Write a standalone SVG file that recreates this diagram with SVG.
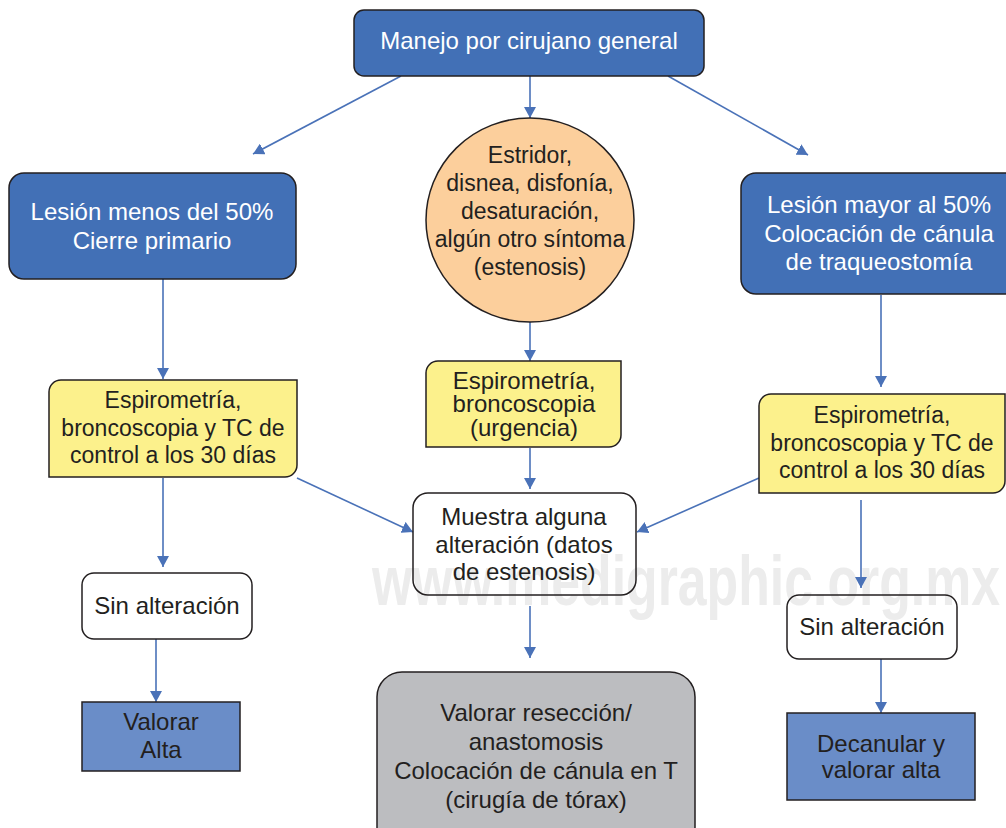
<svg xmlns="http://www.w3.org/2000/svg" width="1006" height="828" viewBox="0 0 1006 828">
<defs>
<marker id="ah" viewBox="0 0 11 12" refX="11" refY="6" markerWidth="11" markerHeight="12" markerUnits="userSpaceOnUse" orient="auto">
<path d="M0,0 L11,6 L0,12 Z" fill="#4a72b8"/>
</marker>
<style>
text{font-family:"Liberation Sans",Arial,sans-serif;text-anchor:middle}
.w{fill:#ffffff;font-size:24px}
.d{fill:#231f20;font-size:24px}
.d23{fill:#231f20;font-size:23px}
.box{stroke:#231f20;stroke-width:1.5}
.dblue{fill:#4270b6}
.lblue{fill:#6a8dc8}
.yel{fill:#fcf18c}
.peach{fill:#fccf9c}
.gray{fill:#bcbdc0}
.white{fill:none}
.con line{stroke:#4a72b8;stroke-width:1.6;marker-end:url(#ah)}
.wm{font-family:"Liberation Sans",Arial,sans-serif;font-weight:bold;font-size:70px;fill:#ececec;text-anchor:start}
</style>
</defs>
<rect width="1006" height="828" fill="#ffffff"/>
<text class="wm" x="372" y="605" textLength="628" lengthAdjust="spacingAndGlyphs">www.medigraphic.org.mx</text>

<g id="connectors" class="con">
<line x1="401" y1="76" x2="253" y2="154"/>
<line x1="530" y1="76" x2="530" y2="118"/>
<line x1="668" y1="76" x2="808" y2="155"/>
<line x1="163" y1="279" x2="163" y2="379"/>
<line x1="530" y1="322" x2="530" y2="361"/>
<line x1="881" y1="295" x2="881" y2="387"/>
<line x1="297" y1="478" x2="413" y2="532"/>
<line x1="530" y1="448" x2="530" y2="489"/>
<line x1="759" y1="478" x2="637" y2="532"/>
<line x1="163" y1="478" x2="163" y2="567"/>
<line x1="156" y1="639" x2="156" y2="702"/>
<line x1="530" y1="606" x2="530" y2="658"/>
<line x1="861" y1="500" x2="861" y2="588"/>
<line x1="881" y1="659" x2="881" y2="713"/>
</g>

<g id="top">
<rect class="box dblue" x="354" y="10" width="350" height="66" rx="10"/>
<text class="w" x="529" y="49">Manejo por cirujano general</text>
</g>

<g id="left-lesion">
<rect class="box dblue" x="9" y="173" width="287" height="106" rx="15"/>
<text class="w" x="152" y="220">Lesión menos del 50%</text>
<text class="w" x="152" y="249">Cierre primario</text>
</g>

<g id="right-lesion">
<rect class="box dblue" x="741" y="173" width="300" height="121" rx="15"/>
<text class="w" x="879" y="213">Lesión mayor al 50%</text>
<text class="w" x="879" y="242">Colocación de cánula</text>
<text class="w" x="879" y="270">de traqueostomía</text>
</g>

<g id="symptoms">
<ellipse class="box peach" cx="530" cy="220" rx="104" ry="102"/>
<text class="d23" x="530" y="163">Estridor,</text>
<text class="d23" x="530" y="191">disnea, disfonía,</text>
<text class="d23" x="530" y="219">desaturación,</text>
<text class="d23" x="530" y="247">algún otro síntoma</text>
<text class="d23" x="530" y="275">(estenosis)</text>
</g>

<g id="left-yellow">
<path class="box yel" d="M61,380 H297 V465 A12,12 0 0 1 285,477 H49 V392 A12,12 0 0 1 61,380 Z"/>
<text class="d23" x="173" y="408">Espirometría,</text>
<text class="d23" x="173" y="436">broncoscopia y TC de</text>
<text class="d23" x="173" y="463">control a los 30 días</text>
</g>

<g id="mid-yellow">
<path class="box yel" d="M438,361 H621 V435 A12,12 0 0 1 609,447 H426 V373 A12,12 0 0 1 438,361 Z"/>
<text class="d" x="524" y="389">Espirometría,</text>
<text class="d" x="524" y="412">broncoscopia</text>
<text class="d" x="524" y="436">(urgencia)</text>
</g>

<g id="right-yellow">
<path class="box yel" d="M771,394 H1005 V481 A12,12 0 0 1 993,493 H759 V406 A12,12 0 0 1 771,394 Z"/>
<text class="d23" x="882" y="423">Espirometría,</text>
<text class="d23" x="882" y="451">broncoscopia y TC de</text>
<text class="d23" x="882" y="478">control a los 30 días</text>
</g>

<g id="muestra">
<rect class="box white" x="413" y="493" width="223" height="102" rx="15"/>
<text class="d" x="524" y="525">Muestra alguna</text>
<text class="d" x="524" y="553">alteración (datos</text>
<text class="d" x="524" y="580">de estenosis)</text>
</g>

<g id="left-sin">
<rect class="box white" x="82" y="573" width="170" height="66" rx="12"/>
<text class="d" x="167" y="614">Sin alteración</text>
</g>

<g id="valorar-alta">
<rect class="box lblue" x="82" y="702" width="158" height="69"/>
<text class="d" x="161" y="730">Valorar</text>
<text class="d" x="161" y="758">Alta</text>
</g>

<g id="right-sin">
<rect class="box white" x="787" y="595" width="170" height="64" rx="12"/>
<text class="d" x="872" y="635">Sin alteración</text>
</g>

<g id="decanular">
<rect class="box lblue" x="787" y="713" width="188" height="87"/>
<text class="d" x="881" y="752">Decanular y</text>
<text class="d" x="881" y="778">valorar alta</text>
</g>

<g id="reseccion">
<rect class="box gray" x="377" y="672" width="318" height="180" rx="25"/>
<text class="d" x="536" y="721">Valorar resección/</text>
<text class="d" x="536" y="750">anastomosis</text>
<text class="d" x="536" y="779">Colocación de cánula en T</text>
<text class="d" x="536" y="808">(cirugía de tórax)</text>
</g>
</svg>
